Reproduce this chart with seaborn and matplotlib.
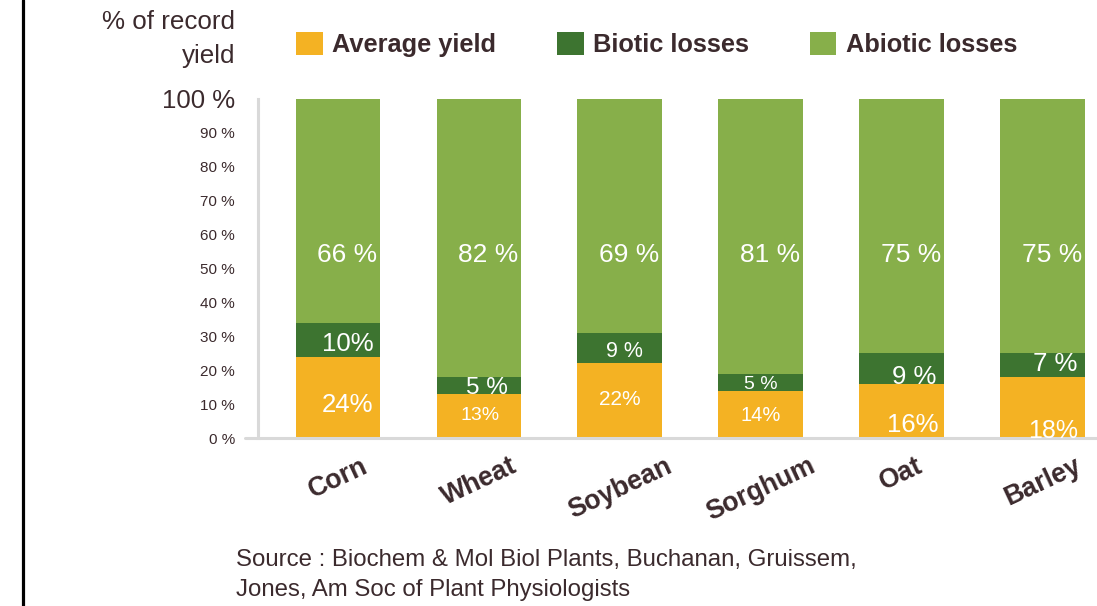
import numpy as np
import pandas as pd
import matplotlib
matplotlib.use("Agg")
import matplotlib.pyplot as plt
from matplotlib.lines import Line2D
from matplotlib.patches import Patch
import seaborn as sns

# --- data -------------------------------------------------------------
crops = ["Corn", "Wheat", "Soybean", "Sorghum", "Oat", "Barley"]
average_yield = [24, 13, 22, 14, 16, 18]
biotic_losses = [10, 5, 9, 5, 9, 7]
abiotic_losses = [66, 82, 69, 81, 75, 75]
series_names = ["Average yield", "Biotic losses", "Abiotic losses"]
ytick_values = [0, 10, 20, 30, 40, 50, 60, 70, 80, 90, 100]

# --- style ------------------------------------------------------------
C_YIELD = "#F4B223"
C_BIOTIC = "#3D7430"
C_ABIOTIC = "#87AF4A"
TXT = "#3B2A2D"
GRID = "#D9D9D9"

# per-label font sizes and small nudges (percentage points / category units)
yield_fs = [18.5, 14, 15, 14.5, 18.5, 18]
biotic_fs = [18.5, 17.5, 15.5, 14, 18.5, 18.5]
yield_dy = [-2.3, 0, 0.5, -0.5, -4.2, -6.9]
biotic_dy = [-1.3, -0.8, -1.1, -0.6, -2.5, 0.3]
yield_dx = [0.07, 0.01, 0.0, 0.0, 0.08, 0.08]
biotic_dx = [0.07, 0.06, 0.03, 0.0, 0.09, 0.09]

sns.set_style("white")
plt.rcParams["font.family"] = ["Liberation Sans", "DejaVu Sans"]

df = pd.DataFrame({
    "crop": crops,
    "yield": average_yield,
    "biotic": biotic_losses,
    "abiotic": abiotic_losses,
})
df["top_yield"] = df["yield"]
df["top_biotic"] = df["yield"] + df["biotic"]
df["top_abiotic"] = df["top_biotic"] + df["abiotic"]

W, H = 1097, 606
fig = plt.figure(figsize=(W / 100, H / 100), dpi=100)
ax = fig.add_axes([258 / W, 168 / H, 839 / W, 339 / H])

# stacked bars: draw cumulative totals back to front
bar_w = 0.6
for col, colr in [("top_abiotic", C_ABIOTIC), ("top_biotic", C_BIOTIC), ("top_yield", C_YIELD)]:
    sns.barplot(data=df, x="crop", y=col, order=crops, color=colr, saturation=1,
                width=bar_w, edgecolor="none", linewidth=0, ax=ax, zorder=2)

ax.set_xlim(-0.568, 5.388)
ax.set_ylim(0, 100)
ax.set_xlabel("")
ax.set_ylabel("")

# axes lines
for s in ["top", "right", "bottom"]:
    ax.spines[s].set_visible(False)
ax.spines["left"].set_color(GRID)
ax.spines["left"].set_linewidth(2.2)
ax.axhline(0, xmin=-0.0155, xmax=1.0, color=GRID, lw=2.2, clip_on=False, zorder=3)

# y ticks
ax.set_yticks(ytick_values)
ax.set_yticklabels([f"{v} %" for v in ytick_values])
ax.tick_params(axis="y", length=0, pad=16.5, labelsize=11, labelcolor=TXT)
ax.get_yticklabels()[-1].set_fontsize(18.5)

# x ticks
ax.tick_params(axis="x", length=0, pad=11, labelcolor=TXT)
for lab in ax.get_xticklabels():
    lab.set_rotation(25)
    lab.set_fontsize(19.3)
    lab.set_fontweight("bold")
    lab.set_ha("center")

# value labels
for i in range(len(crops)):
    right = i + bar_w / 2
    ax.text(right - 0.02, 54, f"{abiotic_losses[i]} %", ha="right", va="center",
            color="white", fontsize=19, zorder=4)
    b = biotic_losses[i]
    btxt = f"{b}%" if b >= 10 else f"{b} %"
    ax.text(i + biotic_dx[i], average_yield[i] + b / 2 + biotic_dy[i], btxt,
            ha="center", va="center", color="white", fontsize=biotic_fs[i], zorder=4)
    ax.text(i + yield_dx[i], average_yield[i] / 2 + yield_dy[i], f"{average_yield[i]}%",
            ha="center", va="center", color="white", fontsize=yield_fs[i], zorder=4,
            clip_on=True)

# axis title
fig.text(235 / W, 1 - 39 / H, "% of record\nyield", ha="right", va="center",
         multialignment="right", fontsize=18.7, color=TXT, linespacing=1.52)

# legend
handles = [Patch(facecolor=c, edgecolor="none") for c in (C_YIELD, C_BIOTIC, C_ABIOTIC)]
leg = fig.legend(handles, series_names, loc="center left",
                 bbox_to_anchor=(296 / W, 1 - 44.5 / H), ncol=3, frameon=False,
                 prop={"weight": "bold", "size": 18.3}, handlelength=1.05,
                 handleheight=1.0, handletextpad=0.36, columnspacing=2.4,
                 borderpad=0, borderaxespad=0)
for t in leg.get_texts():
    t.set_color(TXT)

# source note
fig.text(236 / W, 1 - 560 / H, "Source : Biochem & Mol Biol Plants, Buchanan, Gruissem,",
         ha="left", va="center", fontsize=17.3, color=TXT)
fig.text(236 / W, 1 - 590 / H, "Jones, Am Soc of Plant Physiologists",
         ha="left", va="center", fontsize=17.3, color=TXT)

# frame line on the left edge
fig.add_artist(Line2D([22.5 / W, 22.5 / W], [0, 1], color="black", lw=2.3,
                      transform=fig.transFigure))

fig.savefig("out.png", dpi=100)
